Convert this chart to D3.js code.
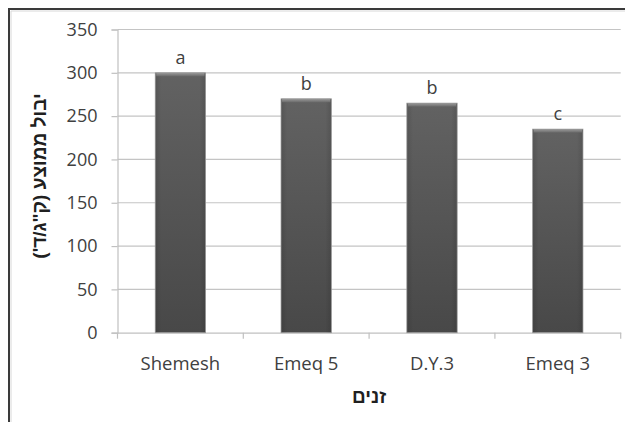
<!DOCTYPE html>
<html><head><meta charset="utf-8">
<script src="https://cdn.jsdelivr.net/npm/d3@7"></script>
<style>body{margin:0;background:#fff}svg{display:block}</style>
</head><body>
<script>
const categories = ["Shemesh", "Emeq 5", "D.Y.3", "Emeq 3"];
const yields = [300, 270, 265, 235];
const letters = ["a", "b", "b", "c"];
const yTicks = [0, 50, 100, 150, 200, 250, 300, 350];
const yTitle = "יבול ממוצע (ק\"ג/ד')";
const xTitle = "זנים";

(function () {
const W = 625, H = 422;
const svg = d3.select("body").append("svg").attr("width", W).attr("height", H);
const font = "'Open Sans', sans-serif";
const titleFont = "'Liberation Sans', 'DejaVu Sans', sans-serif";
const textColor = "#404040";

// frame (top and left)
svg.append("path").attr("d", `M9,${H} V9 H${W}`).attr("fill", "none")
  .attr("stroke", "#3a3a3a").attr("stroke-width", 2);
svg.append("path").attr("d", `M11,${H} V11 H${W}`).attr("fill", "none")
  .attr("stroke", "#d8d8d8").attr("stroke-width", 1);

const pLeft = 117.5, pRight = 620.7, pTop = 29.5, pBottom = 332.7;
const x = d3.scaleBand().domain(categories).range([pLeft, pRight]).paddingInner(0.6).paddingOuter(0.3);
const xOuter = d3.scaleBand().domain(categories).range([pLeft, pRight]).padding(0);
const y = d3.scaleLinear().domain([0, 350]).range([pBottom, pTop]);

// gridlines
svg.append("g").selectAll("line").data(yTicks.filter(d => d > 0)).join("line")
  .attr("x1", pLeft).attr("x2", pRight).attr("y1", d => y(d)).attr("y2", d => y(d))
  .attr("stroke", "#c4c4c4").attr("stroke-width", 1.2);

// y axis
const yAxis = svg.append("g").attr("transform", `translate(${pLeft},0)`)
  .call(d3.axisLeft(y).tickValues(yTicks).tickSize(6).tickPadding(14));
yAxis.select(".domain").attr("stroke", "#c0c0c0").attr("stroke-width", 1.2);
yAxis.selectAll(".tick line").attr("stroke", "#c0c0c0").attr("stroke-width", 1.2);
yAxis.selectAll("text").attr("font-family", font).attr("font-size", 18).attr("fill", textColor);

// x axis
const xAxis = svg.append("g").attr("transform", `translate(0,${pBottom})`)
  .call(d3.axisBottom(xOuter).tickSize(0).tickPadding(24));
xAxis.select(".domain").attr("stroke", "#c0c0c0").attr("stroke-width", 1.2);
xAxis.selectAll("text").attr("font-family", font).attr("font-size", 18.5).attr("fill", textColor);
// category boundary ticks
svg.append("g").selectAll("line").data(categories).join("line")
  .attr("x1", d => xOuter(d) + xOuter.bandwidth()).attr("x2", d => xOuter(d) + xOuter.bandwidth())
  .attr("y1", pBottom).attr("y2", pBottom + 6).attr("stroke", "#c0c0c0").attr("stroke-width", 1.2);
svg.append("line").attr("x1", pLeft).attr("x2", pLeft).attr("y1", pBottom).attr("y2", pBottom + 6)
  .attr("stroke", "#c0c0c0").attr("stroke-width", 1.2);

// gradients
const defs = svg.append("defs");
const gv = defs.append("linearGradient").attr("id", "barV").attr("x1", 0).attr("x2", 0).attr("y1", 0).attr("y2", 1);
gv.append("stop").attr("offset", "0%").attr("stop-color", "#626262");
gv.append("stop").attr("offset", "100%").attr("stop-color", "#484848");
const gh = defs.append("linearGradient").attr("id", "barH").attr("x1", 0).attr("x2", 1).attr("y1", 0).attr("y2", 0);
gh.append("stop").attr("offset", "0%").attr("stop-color", "#000").attr("stop-opacity", 0.12);
gh.append("stop").attr("offset", "12%").attr("stop-color", "#000").attr("stop-opacity", 0);
gh.append("stop").attr("offset", "88%").attr("stop-color", "#000").attr("stop-opacity", 0);
gh.append("stop").attr("offset", "100%").attr("stop-color", "#000").attr("stop-opacity", 0.12);
const gt = defs.append("linearGradient").attr("id", "barT").attr("x1", 0).attr("x2", 0).attr("y1", 0).attr("y2", 1);
gt.append("stop").attr("offset", "0%").attr("stop-color", "#9a9a9a");
gt.append("stop").attr("offset", "100%").attr("stop-color", "#6a6a6a");

const bars = svg.append("g").selectAll("g").data(categories).join("g");
bars.append("rect")
  .attr("x", d => x(d)).attr("width", x.bandwidth())
  .attr("y", (d, i) => y(yields[i])).attr("height", (d, i) => pBottom - y(yields[i]))
  .attr("fill", "url(#barV)").attr("stroke", "#a0a0a0").attr("stroke-width", 0.8);
bars.append("rect")
  .attr("x", d => x(d)).attr("width", x.bandwidth())
  .attr("y", (d, i) => y(yields[i])).attr("height", (d, i) => pBottom - y(yields[i]))
  .attr("fill", "url(#barH)");
bars.append("rect")
  .attr("x", d => x(d) + 1).attr("width", x.bandwidth() - 2)
  .attr("y", (d, i) => y(yields[i])).attr("height", 3.5)
  .attr("fill", "url(#barT)");

// letters
svg.append("g").selectAll("text").data(categories).join("text")
  .attr("x", d => x(d) + x.bandwidth() / 2)
  .attr("y", (d, i) => y(yields[i]) - 9)
  .attr("text-anchor", "middle").attr("font-family", font).attr("font-size", 18).attr("fill", textColor)
  .text((d, i) => letters[i]);

// axis titles
svg.append("text").attr("transform", `translate(46,176) rotate(-90)`)
  .attr("text-anchor", "middle").attr("font-family", titleFont).attr("font-weight", "bold")
  .attr("font-size", 19).attr("fill", "#202020").attr("direction", "rtl").text(yTitle);
svg.append("text").attr("x", (pLeft + pRight) / 2).attr("y", 403)
  .attr("text-anchor", "middle").attr("font-family", titleFont).attr("font-weight", "bold")
  .attr("font-size", 19).attr("fill", "#202020").attr("direction", "rtl").text(xTitle);
})();
</script>
</body></html>
